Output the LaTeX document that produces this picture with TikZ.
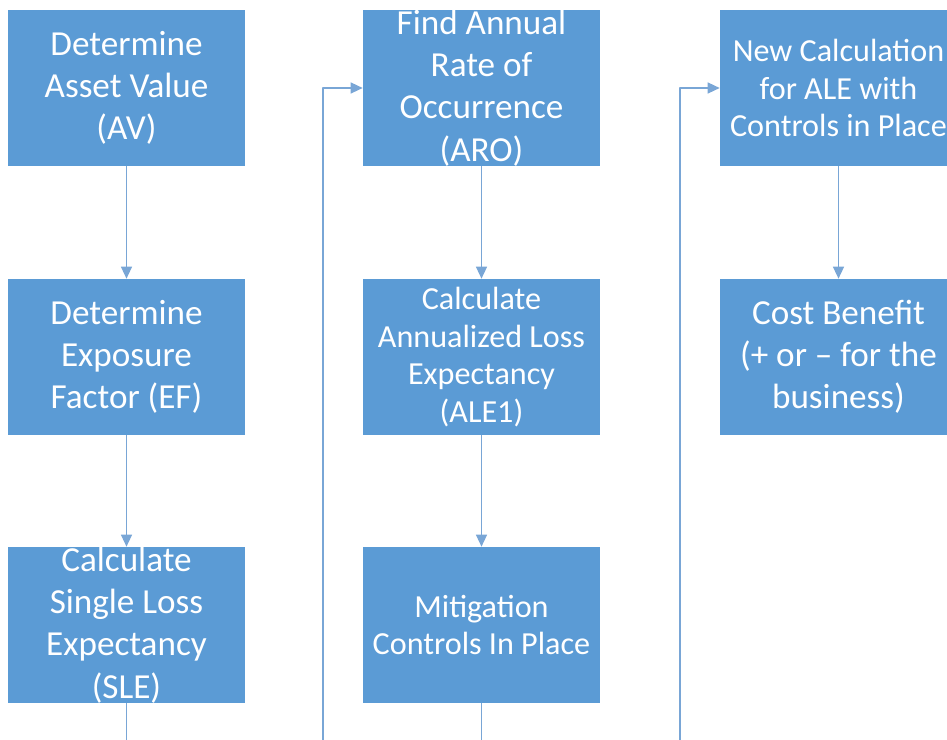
\documentclass[tikz,border=0pt]{standalone}
\usepackage{fontspec}
\setmainfont{Carlito}
\usetikzlibrary{arrows.meta}
\definecolor{boxblue}{HTML}{5B9BD5}
\definecolor{lineblue}{HTML}{79A6D6}
\begin{document}
\begin{tikzpicture}[x=0.02cm,y=-0.02cm,line join=round,
		>={Triangle[length=0.24cm,width=0.22cm]},
		blk/.style={fill=boxblue,minimum width=4.74cm,minimum height=3.12cm,inner sep=0pt},
		big/.style={text=white,align=center,inner sep=0pt,font=\fontsize{20}{24}\selectfont},
		small/.style={text=white,align=center,inner sep=0pt,font=\fontsize{18.3}{21.3}\selectfont},
		conn/.style={draw=lineblue,line width=0.8pt}]
			\useasboundingbox (0,0) rectangle (947,740);
			\clip (0,0) rectangle (947,740);
			% first column
			\node[blk] (av) at (126.5,88) {};
			\node[big] (av-t) at (av) {Determine\\Asset Value\\(AV)};
			\node[blk] (ef) at (126.5,357) {};
			\node[big] (ef-t) at (ef) {Determine\\Exposure\\Factor (EF)};
			\node[blk] (sle) at (126.5,625) {};
			\node[big] (sle-t) at (sle) {Calculate\\Single Loss\\Expectancy\\(SLE)};
			% second column
			\node[blk] (aro) at (481.5,88) {};
			\node[big] (aro-t) at (aro) {Find Annual\\Rate of\\Occurrence\\(ARO)};
			\node[blk] (ale) at (481.5,357) {};
			\node[small] (ale-t) at (ale) {Calculate\\Annualized Loss\\Expectancy\\(ALE1)};
			\node[blk] (mit) at (481.5,625) {};
			\node[small] (mit-t) at (mit) {Mitigation\\Controls In Place};
			% third column
			\node[blk] (new) at (838.5,88) {};
			\node[small] (new-t) at (new) {New Calculation\\for ALE with\\Controls in Place};
			\node[blk] (cb) at (838.5,357) {};
			\node[big] (cb-t) at (cb) {Cost Benefit\\(+ or -- for the\\business)};
			% connectors
			\coordinate (bot) at (0,740);
			\coordinate (up1) at (323,740);
			\coordinate (up2) at (680,740);
			\draw[conn,->] (av) -- (ef);
			\draw[conn,->] (ef) -- (sle);
			\draw[conn] (sle.south) -- (sle.south |- bot);
			\draw[conn,->] (up1) |- (aro.west);
			\draw[conn,->] (aro) -- (ale);
			\draw[conn,->] (ale) -- (mit);
			\draw[conn] (mit.south) -- (mit.south |- bot);
			\draw[conn,->] (up2) |- (new.west);
			\draw[conn,->] (new) -- (cb);
		\end{tikzpicture}
\end{document}
